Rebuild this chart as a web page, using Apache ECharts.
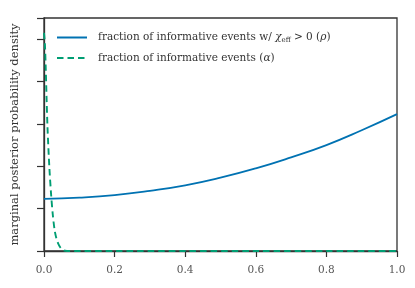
<!DOCTYPE html>
<html><head><meta charset="utf-8">
<script src="https://cdn.jsdelivr.net/npm/echarts@6/dist/echarts.min.js"></script>
<style>html,body{margin:0;padding:0;background:#fff}#c{width:415px;height:288px}</style>
</head><body><div id="c"></div>
<script>
const xTicks = [0, 0.2, 0.4, 0.6, 0.8, 1.0];
const rhoX = [0, 0.1, 0.2, 0.3, 0.4, 0.5, 0.6, 0.7, 0.8, 0.9, 1.0];
const rhoY = [1.23, 1.26, 1.32, 1.42, 1.55, 1.73, 1.95, 2.21, 2.50, 2.85, 3.23];
const alphaX = [0, 0.0025, 0.005, 0.0075, 0.01, 0.015, 0.02, 0.025, 0.03, 0.035, 0.04, 0.045, 0.05, 0.055, 0.06, 0.07, 0.1, 0.2, 0.4, 0.6, 0.8, 1.0];
const alphaY = [5.15, 4.9, 4.3, 3.55, 2.9, 2.0, 1.35, 0.85, 0.5, 0.3, 0.18, 0.1, 0.05, 0.02, 0.006, 0, 0, 0, 0, 0, 0, 0];
const seriesNames = ['rho', 'alpha'];

const font = 'DejaVu Serif';
const chart = echarts.init(document.getElementById('c'), null, {renderer: 'canvas'});
chart.setOption({
  animation: false,
  grid: {left: 44, right: 18, top: 18, bottom: 37, show: true, borderColor: '#333', borderWidth: 1.3, backgroundColor: 'transparent'},
  legend: {
    left: 51, top: 27, orient: 'vertical', itemGap: 8.5, itemWidth: 30, itemHeight: 12,
    data: seriesNames,
    itemStyle: {opacity: 0},
    formatter: function (n) {
      return n === 'rho'
        ? 'fraction of informative events w/ {i|χ}{sub|eff} > 0 ({i|ρ})'
        : 'fraction of informative events ({i|α})';
    },
    textStyle: {fontFamily: font, fontSize: 10.5, color: '#333', padding: [0, 0, 0, 6],
      rich: {i: {fontFamily: font, fontStyle: 'italic', fontSize: 10.5, color: '#333'},
             sub: {fontFamily: font, fontSize: 7, color: '#333', verticalAlign: 'bottom', padding: [6, 0, 0, 0]}}}
  },
  xAxis: {
    type: 'value', min: 0, max: 1, interval: 0.2,
    axisLine: {show: true, lineStyle: {color: '#333', width: 1.3}},
    axisTick: {show: true, length: 6, lineStyle: {color: '#333', width: 1.2}},
    axisLabel: {fontFamily: font, fontSize: 10.5, color: '#555', margin: 14,
      formatter: v => v.toFixed(1)},
    splitLine: {show: false}
  },
  yAxis: {
    type: 'value', min: 0, max: 5.5, interval: 1,
    name: 'marginal posterior probability density', nameLocation: 'middle', nameGap: 23,
    nameTextStyle: {fontFamily: font, fontSize: 11.5, color: '#333'},
    axisLine: {show: true, lineStyle: {color: '#333', width: 1.3}},
    axisTick: {show: true, length: 7, lineStyle: {color: '#333', width: 1.2}},
    axisLabel: {show: false},
    splitLine: {show: false}
  },
  series: [
    {name: seriesNames[0], type: 'line', smooth: true, symbol: 'none',
     data: rhoX.map((x, i) => [x, rhoY[i]]),
     lineStyle: {color: '#0072B2', width: 1.8}, itemStyle: {color: '#0072B2'}},
    {name: seriesNames[1], type: 'line', smooth: 0.3, symbol: 'none',
     data: alphaX.map((x, i) => [x, alphaY[i]]),
     lineStyle: {color: '#009E73', width: 1.9, type: [6.5, 4]}, itemStyle: {color: '#009E73'}}
  ]
});
</script></body></html>
